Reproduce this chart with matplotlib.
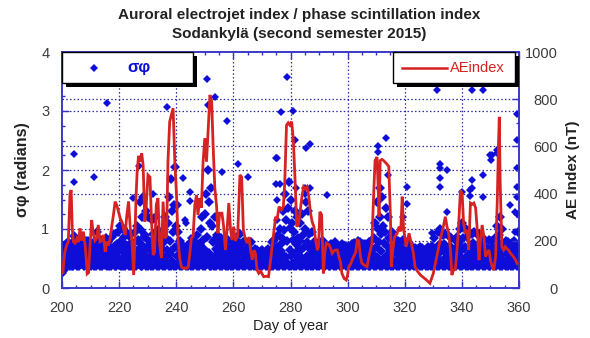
import numpy as np
import matplotlib.pyplot as plt
from matplotlib.patches import Rectangle

plt.rcParams['font.family'] = ['Liberation Sans', 'DejaVu Sans']

# phase scintillation index, six readings per day (4 h bins)
sigma_200 = """
0.25 0.52 0.38 0.72 0.30 0.61
0.40 0.63 0.38 0.75 0.45 0.55
0.39 0.78 0.47 0.60 0.38 0.68
0.42 0.56 0.38 0.76 0.50 0.66
0.38 0.88 0.52 0.70 0.40 0.61
0.41 0.66 0.38 0.80 0.49 0.57
0.38 0.71 0.44 0.78 0.40 0.58
0.40 0.82 0.50 0.64 0.38 0.72
0.39 0.60 0.45 0.80 0.38 0.68
0.43 0.79 0.38 0.57 0.48 0.69
0.38 0.62 0.41 0.74 0.46 0.55
0.40 0.78 0.38 0.66 0.52 0.58
0.38 0.95 0.47 0.73 0.41 0.62
0.42 0.69 0.38 0.82 0.50 0.59
0.38 0.80 0.44 0.62 0.40 0.71
0.39 0.58 0.49 0.84 0.38 0.70
0.41 0.78 0.38 0.63 0.46 0.55
0.38 0.67 0.43 0.86 0.40 0.59
0.40 0.92 0.48 0.71 0.38 0.61
0.38 0.74 0.42 0.95 0.51 0.63
0.39 1.05 0.47 0.80 0.38 0.64
0.41 0.68 0.38 1.02 0.55 0.86
0.38 0.96 0.45 0.73 0.40 0.60
0.40 0.65 0.38 0.88 0.50 0.74
0.38 0.92 0.46 0.69 0.41 0.58
0.42 0.77 0.38 0.95 0.52 0.63
0.38 1.05 0.48 0.82 0.40 0.66
0.40 1.45 0.55 0.98 0.38 0.74
0.38 1.20 0.47 1.55 0.62 0.86
0.41 0.90 0.38 1.30 0.53 0.70
0.38 1.20 0.49 0.80 0.40 0.64
0.40 0.72 0.38 1.15 0.56 0.92
0.38 1.18 0.45 0.85 0.41 0.63
0.42 0.75 0.38 0.98 0.51 0.62
0.38 0.92 0.46 0.68 0.40 0.57
0.39 0.66 0.38 0.95 0.49 0.78
0.38 1.20 0.52 0.84 0.41 0.65
0.40 1.10 0.38 1.55 0.58 0.80
0.38 1.85 0.62 1.30 0.45 0.95
0.42 1.40 0.38 2.05 0.70 1.05
"""

sigma_240 = """
0.38 1.40 0.55 0.95 0.41 0.72
0.40 0.80 0.38 0.62 0.47 0.55
0.38 0.58 0.43 0.72 0.40 0.51
0.41 0.70 0.38 0.55 0.46 0.62
0.38 0.62 0.44 0.75 0.40 0.52
0.39 0.72 0.38 0.58 0.48 0.64
0.38 0.56 0.42 0.78 0.41 0.66
0.40 0.90 0.38 0.64 0.50 0.75
0.38 0.74 0.47 1.00 0.42 0.60
0.41 1.20 0.38 0.82 0.55 0.66
0.38 1.25 0.52 1.60 0.44 0.86
0.40 2.00 0.60 1.45 0.38 1.10
0.38 1.70 0.48 1.05 0.42 0.78
0.41 0.82 0.38 1.20 0.55 0.66
0.38 0.90 0.46 0.62 0.40 0.74
0.40 0.64 0.38 0.85 0.49 0.56
0.38 0.80 0.44 0.60 0.41 0.69
0.39 0.57 0.38 0.78 0.47 0.66
0.38 0.82 0.45 0.63 0.40 0.55
0.41 0.70 0.38 0.80 0.50 0.58
0.38 0.62 0.43 0.76 0.40 0.54
0.40 0.80 0.38 0.59 0.48 0.68
0.38 0.92 0.46 0.66 0.41 0.74
0.39 0.60 0.38 0.78 0.50 0.56
0.38 0.80 0.44 0.58 0.40 0.67
0.41 0.55 0.38 0.75 0.47 0.62
0.38 0.78 0.43 0.60 0.40 0.52
0.40 0.56 0.38 0.66 0.45 0.50
0.38 0.64 0.42 0.51 0.40 0.57
0.39 0.50 0.38 0.62 0.45 0.55
0.38 0.65 0.43 0.52 0.40 0.59
0.40 0.54 0.38 0.63 0.46 0.50
0.38 0.66 0.42 0.55 0.41 0.60
0.39 0.61 0.38 0.78 0.48 0.68
0.38 0.82 0.45 0.64 0.40 0.55
0.41 0.70 0.38 0.90 0.52 0.60
0.38 1.00 0.47 0.75 0.40 0.63
0.40 0.85 0.38 1.30 0.55 0.98
0.38 1.60 0.52 1.15 0.42 0.80
0.41 1.35 0.38 1.80 0.65 1.02
"""

sigma_280 = """
0.38 1.50 0.55 1.10 0.40 0.82
0.40 0.95 0.38 1.30 0.58 0.74
0.38 1.20 0.47 0.85 0.41 0.66
0.39 0.80 0.38 1.10 0.52 0.65
0.38 1.25 0.46 0.90 0.40 0.70
0.41 1.00 0.38 1.45 0.55 0.78
0.38 1.30 0.48 0.92 0.40 0.66
0.40 0.72 0.38 0.95 0.50 0.60
0.38 0.78 0.44 0.60 0.41 0.68
0.39 0.58 0.38 0.76 0.47 0.65
0.38 0.78 0.43 0.62 0.40 0.55
0.41 0.66 0.38 0.80 0.49 0.58
0.38 0.75 0.45 0.57 0.40 0.65
0.40 0.53 0.38 0.72 0.46 0.62
0.38 0.74 0.42 0.60 0.41 0.51
0.39 0.64 0.38 0.78 0.48 0.56
0.38 0.72 0.44 0.55 0.40 0.63
0.41 0.56 0.38 0.70 0.47 0.61
0.38 0.74 0.43 0.60 0.40 0.52
0.40 0.62 0.38 0.72 0.46 0.55
0.38 0.70 0.42 0.54 0.41 0.61
0.39 0.58 0.38 0.74 0.47 0.66
0.38 0.76 0.45 0.61 0.40 0.53
0.41 0.66 0.38 0.80 0.49 0.57
0.38 0.78 0.43 0.59 0.40 0.68
0.40 0.55 0.38 0.75 0.46 0.63
0.38 0.74 0.44 0.58 0.41 0.51
0.39 0.62 0.38 0.78 0.48 0.69
0.38 0.80 0.46 0.64 0.40 0.55
0.41 0.85 0.38 1.10 0.55 0.70
0.38 1.45 0.52 1.00 0.42 0.78
0.40 1.20 0.38 1.70 0.62 0.92
0.38 1.55 0.50 1.05 0.41 0.76
0.42 0.95 0.38 1.35 0.56 0.72
0.38 1.20 0.47 0.84 0.40 0.64
0.40 0.70 0.38 0.95 0.50 0.60
0.38 0.85 0.44 0.62 0.41 0.70
0.39 0.58 0.38 0.80 0.47 0.66
0.38 0.78 0.43 0.60 0.40 0.52
0.41 0.67 0.38 0.82 0.49 0.56
"""

sigma_320 = """
0.38 0.80 0.45 0.58 0.40 0.66
0.40 0.55 0.38 0.76 0.46 0.62
0.38 0.72 0.42 0.56 0.41 0.50
0.39 0.60 0.38 0.68 0.45 0.52
0.38 0.66 0.42 0.50 0.40 0.57
0.40 0.54 0.38 0.70 0.45 0.61
0.38 0.68 0.43 0.52 0.40 0.58
0.41 0.50 0.38 0.65 0.44 0.56
0.38 0.70 0.42 0.57 0.40 0.50
0.39 0.61 0.38 0.72 0.46 0.54
0.38 0.85 0.45 0.66 0.41 0.56
0.40 0.70 0.38 0.95 0.50 0.60
0.38 1.00 0.47 0.74 0.40 0.62
0.41 0.64 0.38 0.90 0.50 0.75
0.38 0.92 0.44 0.68 0.40 0.57
0.39 0.60 0.38 0.88 0.48 0.72
0.38 0.85 0.45 0.64 0.41 0.55
0.40 0.58 0.38 0.82 0.47 0.68
0.38 0.86 0.43 0.62 0.40 0.72
0.41 0.76 0.38 1.00 0.52 0.64
0.38 1.10 0.48 0.84 0.40 0.66
0.40 0.70 0.38 1.00 0.54 0.86
0.38 0.95 0.46 0.68 0.41 0.59
0.39 0.64 0.38 0.92 0.50 0.76
0.38 0.95 0.45 0.70 0.40 0.58
0.41 0.62 0.38 0.90 0.48 0.74
0.38 0.92 0.44 0.66 0.40 0.56
0.40 0.60 0.38 0.85 0.47 0.70
0.38 0.80 0.43 0.62 0.41 0.54
0.39 0.68 0.38 0.82 0.46 0.58
0.38 0.80 0.44 0.60 0.40 0.70
0.41 0.64 0.38 0.85 0.50 0.56
0.38 1.05 0.47 0.78 0.40 0.62
0.40 0.90 0.38 1.20 0.55 0.70
0.38 1.00 0.46 0.72 0.41 0.60
0.39 0.62 0.38 0.80 0.48 0.70
0.38 0.78 0.44 0.58 0.40 0.66
0.41 0.56 0.38 0.76 0.47 0.64
0.38 0.80 0.43 0.62 0.40 0.54
0.40 0.72 0.38 0.95 0.50 0.60
0.38 0.70 0.45 0.55 0.40 0.62
"""

# isolated strong scintillation events
spike_day = [204.2, 204.2, 211.3, 215.9, 225.0, 227.1, 232.0, 236.7, 242.5,
             243.0, 243.5, 244.8, 244.8, 245.3, 250.9, 251.0, 253.6, 255.9,
             257.7, 261.5, 265.2, 274.9, 275.2, 274.9, 275.2, 275.2, 276.3,
             276.7, 278.7, 280.8, 281.6, 282.0, 285.0, 285.1, 285.4, 286.8,
             287.0, 292.7, 310.5, 310.8, 313.4, 314.3, 319.5, 320.7, 320.7,
             329.4, 331.2, 332.2, 332.2, 332.4, 332.4, 334.7, 334.7, 339.9,
             342.9, 342.9, 343.4, 343.4, 343.5, 347.3, 347.3, 347.3, 349.9,
             350.1, 350.4, 352.2, 352.4, 356.9, 358.6, 358.6, 359.2, 359.2,
             359.2, 359.3, 359.3, 359.3]
spike_sigma = [2.27, 1.80, 1.88, 3.13, 1.52, 2.06, 1.60, 3.06, 1.86,
               1.15, 1.10, 1.62, 1.48, 0.85, 3.55, 3.11, 3.24, 1.97,
               2.83, 2.10, 1.88, 2.20, 2.20, 1.76, 1.15, 1.49, 1.77,
               2.99, 3.58, 3.00, 2.51, 1.69, 1.70, 1.60, 2.37, 2.44,
               1.69, 1.58, 2.31, 2.40, 2.55, 1.92, 1.21, 1.72, 1.43,
               0.93, 3.36, 1.86, 1.72, 2.11, 2.03, 2.00, 1.29, 1.63,
               1.66, 1.56, 3.36, 1.83, 1.69, 3.36, 1.92, 1.55, 2.25,
               2.17, 2.25, 2.28, 2.34, 1.41, 1.29, 0.95, 2.95, 2.03,
               1.72, 2.51, 1.55, 1.26]

# AE index (nT)
ae_day = [200.0, 200.3, 200.6, 201.0, 201.6, 202.2, 202.8, 203.2, 203.6, 204.0,
          204.6, 205.2, 205.8, 206.3, 206.9, 207.5, 208.1, 208.5, 208.8, 209.3,
          209.8, 210.4, 211.0, 211.5, 212.1, 212.7, 213.3, 213.9, 214.5, 215.1,
          215.6, 216.2, 216.8, 217.4, 218.0, 218.6, 219.2, 219.8, 220.4, 221.0,
          221.5, 222.1, 222.7, 223.3, 223.9, 224.5, 225.1, 225.5, 225.9, 226.3,
          226.8, 227.4, 227.9, 228.4, 229.0, 229.5, 230.1, 230.8, 231.3, 231.9,
          232.4, 233.0, 233.6, 234.2, 234.8, 235.4, 236.0, 236.6, 237.1, 237.7,
          238.3, 238.9, 239.5, 240.1, 240.6, 241.2, 241.8, 242.4, 243.0, 243.6,
          244.2, 244.7, 245.3, 245.9, 246.5, 247.1, 247.6, 248.2, 248.8, 249.4,
          250.0, 250.6, 251.2, 251.8, 252.4, 252.9, 253.5, 254.1, 254.6, 255.2,
          256.0, 256.6, 257.2, 257.8, 258.4, 259.0, 259.5, 260.1, 260.7, 261.5,
          262.3, 262.9, 263.5, 264.0, 264.8, 265.5, 266.0, 266.6, 267.2, 267.7,
          268.3, 268.9, 269.6, 270.6, 271.5, 272.3, 272.9, 273.5, 274.2, 274.8,
          275.3, 276.0, 276.8, 277.5, 278.0, 278.6, 279.2, 279.8, 280.4, 281.0,
          281.6, 282.2, 282.8, 283.4, 284.0, 284.6, 285.2, 285.8, 286.4, 287.0,
          287.6, 288.2, 288.8, 289.4, 289.8, 290.3, 290.9, 291.5, 292.0, 292.5,
          293.4, 294.0, 294.6, 295.5, 296.4, 297.0, 297.5, 298.0, 298.8, 299.5,
          299.9, 300.4, 301.0, 301.6, 302.1, 302.8, 303.4, 303.9, 304.5, 305.0,
          306.0, 306.8, 307.4, 308.0, 308.5, 309.0, 309.6, 310.3, 310.7, 311.0,
          311.4, 312.0, 312.6, 313.4, 314.4, 315.0, 315.3, 315.8, 316.4, 317.3,
          318.0, 318.6, 319.1, 319.6, 320.5, 321.5, 322.3, 323.0, 323.6, 324.5,
          325.5, 326.5, 327.5, 328.8, 329.5, 330.0, 331.0, 332.4, 333.5, 334.2,
          334.8, 335.4, 336.0, 336.5, 337.1, 337.7, 338.3, 338.9, 339.5, 340.1,
          340.6, 341.2, 341.8, 342.4, 343.0, 343.6, 344.2, 344.8, 345.4, 346.0,
          346.5, 347.1, 347.7, 348.3, 348.9, 349.5, 350.0, 350.6, 351.2, 351.8,
          352.4, 352.8, 353.1, 353.4, 354.0, 354.6, 355.2, 355.8, 356.4, 357.0,
          357.6, 358.2, 358.8, 359.3]
ae_nt = [90, 60, 110, 154, 180, 196, 400, 415, 250, 196,
         190, 210, 195, 253, 200, 239, 182, 120, 60, 65,
         180, 288, 225, 200, 210, 267, 196, 200, 225, 154,
         196, 180, 205, 260, 309, 366, 350, 323, 295, 280,
         253, 225, 309, 366, 253, 196, 55, 200, 380, 490,
         560, 535, 570, 521, 281, 350, 479, 470, 296, 140,
         150, 352, 381, 182, 127, 366, 211, 220, 535, 705,
         733, 762, 535, 394, 211, 127, 90, 83, 85, 83,
         90, 140, 211, 220, 352, 394, 309, 381, 340, 535,
         635, 535, 678, 818, 790, 606, 424, 350, 232, 317,
         317, 260, 161, 246, 360, 250, 203, 260, 200, 220,
         479, 470, 246, 216, 190, 216, 161, 119, 160, 147,
         76, 62, 70, 48, 50, 48, 105, 170, 240, 302,
         290, 345, 330, 345, 450, 690, 700, 690, 705, 627,
         457, 260, 270, 330, 387, 429, 420, 429, 387, 317,
         280, 260, 203, 160, 175, 323, 310, 62, 150, 190,
         185, 170, 147, 160, 161, 130, 111, 62, 40, 34,
         50, 90, 100, 119, 133, 150, 203, 200, 133, 105,
         95, 90, 130, 161, 190, 360, 540, 555, 420, 302,
         540, 545, 540, 530, 515, 300, 90, 160, 216, 230,
         260, 240, 387, 250, 175, 232, 190, 150, 90, 70,
         55, 45, 35, 20, 45, 62, 120, 203, 260, 302,
         260, 230, 161, 55, 76, 80, 161, 274, 415, 400,
         274, 232, 246, 161, 360, 355, 360, 340, 246, 118,
         203, 267, 217, 133, 150, 161, 118, 90, 76, 133,
         373, 600, 725, 450, 175, 161, 175, 165, 160, 147,
         140, 130, 119, 105]


def read_block(text, first_day):
    rows = [[float(v) for v in line.split()] for line in text.strip().splitlines()]
    t, s = [], []
    for i, row in enumerate(rows):
        for k, v in enumerate(row):
            t.append(first_day + i + k / len(row))
            s.append(v)
    return t, s


sig_t, sig_v = [], []
for block, d0 in [(sigma_200, 200), (sigma_240, 240), (sigma_280, 280), (sigma_320, 320)]:
    t, s = read_block(block, d0)
    sig_t += t
    sig_v += s

blue = '#0e0ed8'
red = '#d62222'
axis_blue = '#3434c4'
grid_blue = '#2c2ca0'
label_grey = '#3c3c3c'

fig = plt.figure(figsize=(5.9, 3.38), dpi=100)
ax = fig.add_axes([62 / 590, 50 / 338, 457 / 590, 236 / 338])
ax2 = ax.twinx()

# dotted grid, both scales
for d in range(220, 360, 20):
    ax.axvline(d, color=grid_blue, lw=0.9, ls=(0, (1.2, 1.8)), zorder=0.5)
for v in [1, 2, 3]:
    ax.axhline(v, color=grid_blue, lw=0.9, ls=(0, (1.2, 1.8)), zorder=0.5)
for v in [200, 400, 600, 800]:
    ax.axhline(v * 4 / 1000, color=grid_blue, lw=0.9, ls=(0, (1.2, 1.8)), zorder=0.5)

ax.plot(sig_t, sig_v, 'D', color=blue, ms=4.7, mew=0, zorder=2)
ax.plot(spike_day, spike_sigma, 'D', color=blue, ms=3.8, mew=0, zorder=2)

ax2.plot(ae_day, ae_nt, color=red, lw=2.0, solid_joinstyle='miter', zorder=3)

ax.set_xlim(200, 360)
ax.set_ylim(0, 4)
ax2.set_ylim(0, 1000)

ax.set_xticks(range(200, 361, 20))
ax.set_xticks(range(200, 361, 5), minor=True)
ax.set_yticks([0, 1, 2, 3, 4])
ax.set_yticks(np.arange(0, 4.01, 0.25), minor=True)
ax2.set_yticks([0, 200, 400, 600, 800, 1000])
ax2.set_yticks(range(0, 1001, 100), minor=True)

for a in (ax, ax2):
    for sp in a.spines.values():
        sp.set_color(axis_blue)
        sp.set_linewidth(1.1)
ax.tick_params(which='both', direction='in', color=axis_blue, top=True, right=False,
               labelsize=10.5, labelcolor=label_grey)
ax.tick_params(which='major', length=5, width=1)
ax.tick_params(which='minor', length=2.5, width=1)
ax.tick_params(axis='x', pad=9)
ax.tick_params(axis='y', pad=9)
ax2.tick_params(which='both', direction='in', color=axis_blue, labelsize=10.5,
                labelcolor=label_grey, pad=28)
ax2.tick_params(which='major', length=5, width=1)
ax2.tick_params(which='minor', length=2.5, width=1)
for lab in ax2.get_yticklabels():
    lab.set_horizontalalignment('right')

ax.set_xlabel('Day of year', fontsize=10.5, color='#222222', labelpad=3)
ax.set_ylabel('σφ (radians)', fontsize=11.5, fontweight='bold', color='#222222', labelpad=8)
ax2.set_ylabel('AE Index (nT)', fontsize=11, fontweight='bold', color='#222222', labelpad=6)

fig.text(0.507, 0.955, 'Auroral electrojet index / phase scintillation index',
         ha='center', va='center', fontsize=11, fontweight='bold', color='#222222')
fig.text(0.507, 0.900, 'Sodankylä (second semester 2015)',
         ha='center', va='center', fontsize=11, fontweight='bold', color='#222222')

# legend boxes with a drop shadow
tr = ax2.transAxes
sx, sy = 4 / 457, 4 / 236
for x0, x1 in [(0.0, 0.287), (0.724, 0.991)]:
    ax2.add_patch(Rectangle((x0 + sx, 0.869 - sy), x1 - x0, 0.131, transform=tr,
                            facecolor='black', edgecolor='black', lw=0,
                            zorder=10, clip_on=False))
    ax2.add_patch(Rectangle((x0, 0.869), x1 - x0, 0.131, transform=tr,
                            facecolor='white', edgecolor='black', lw=1,
                            zorder=11, clip_on=False))
ax2.plot([0.07], [0.933], 'D', color=blue, ms=3.8, mew=0, transform=tr,
         zorder=12, clip_on=False)
ax2.text(0.143, 0.933, 'σφ', color=blue, fontsize=12, fontweight='bold',
         ha='left', va='center', transform=tr, zorder=12)
ax2.plot([0.744, 0.842], [0.933, 0.933], color=red, lw=1.8, transform=tr,
         zorder=12, clip_on=False)
ax2.text(0.85, 0.933, 'AEindex', color=red, fontsize=10.5,
         ha='left', va='center', transform=tr, zorder=12)

fig.savefig('out.png', dpi=100, facecolor='white')
